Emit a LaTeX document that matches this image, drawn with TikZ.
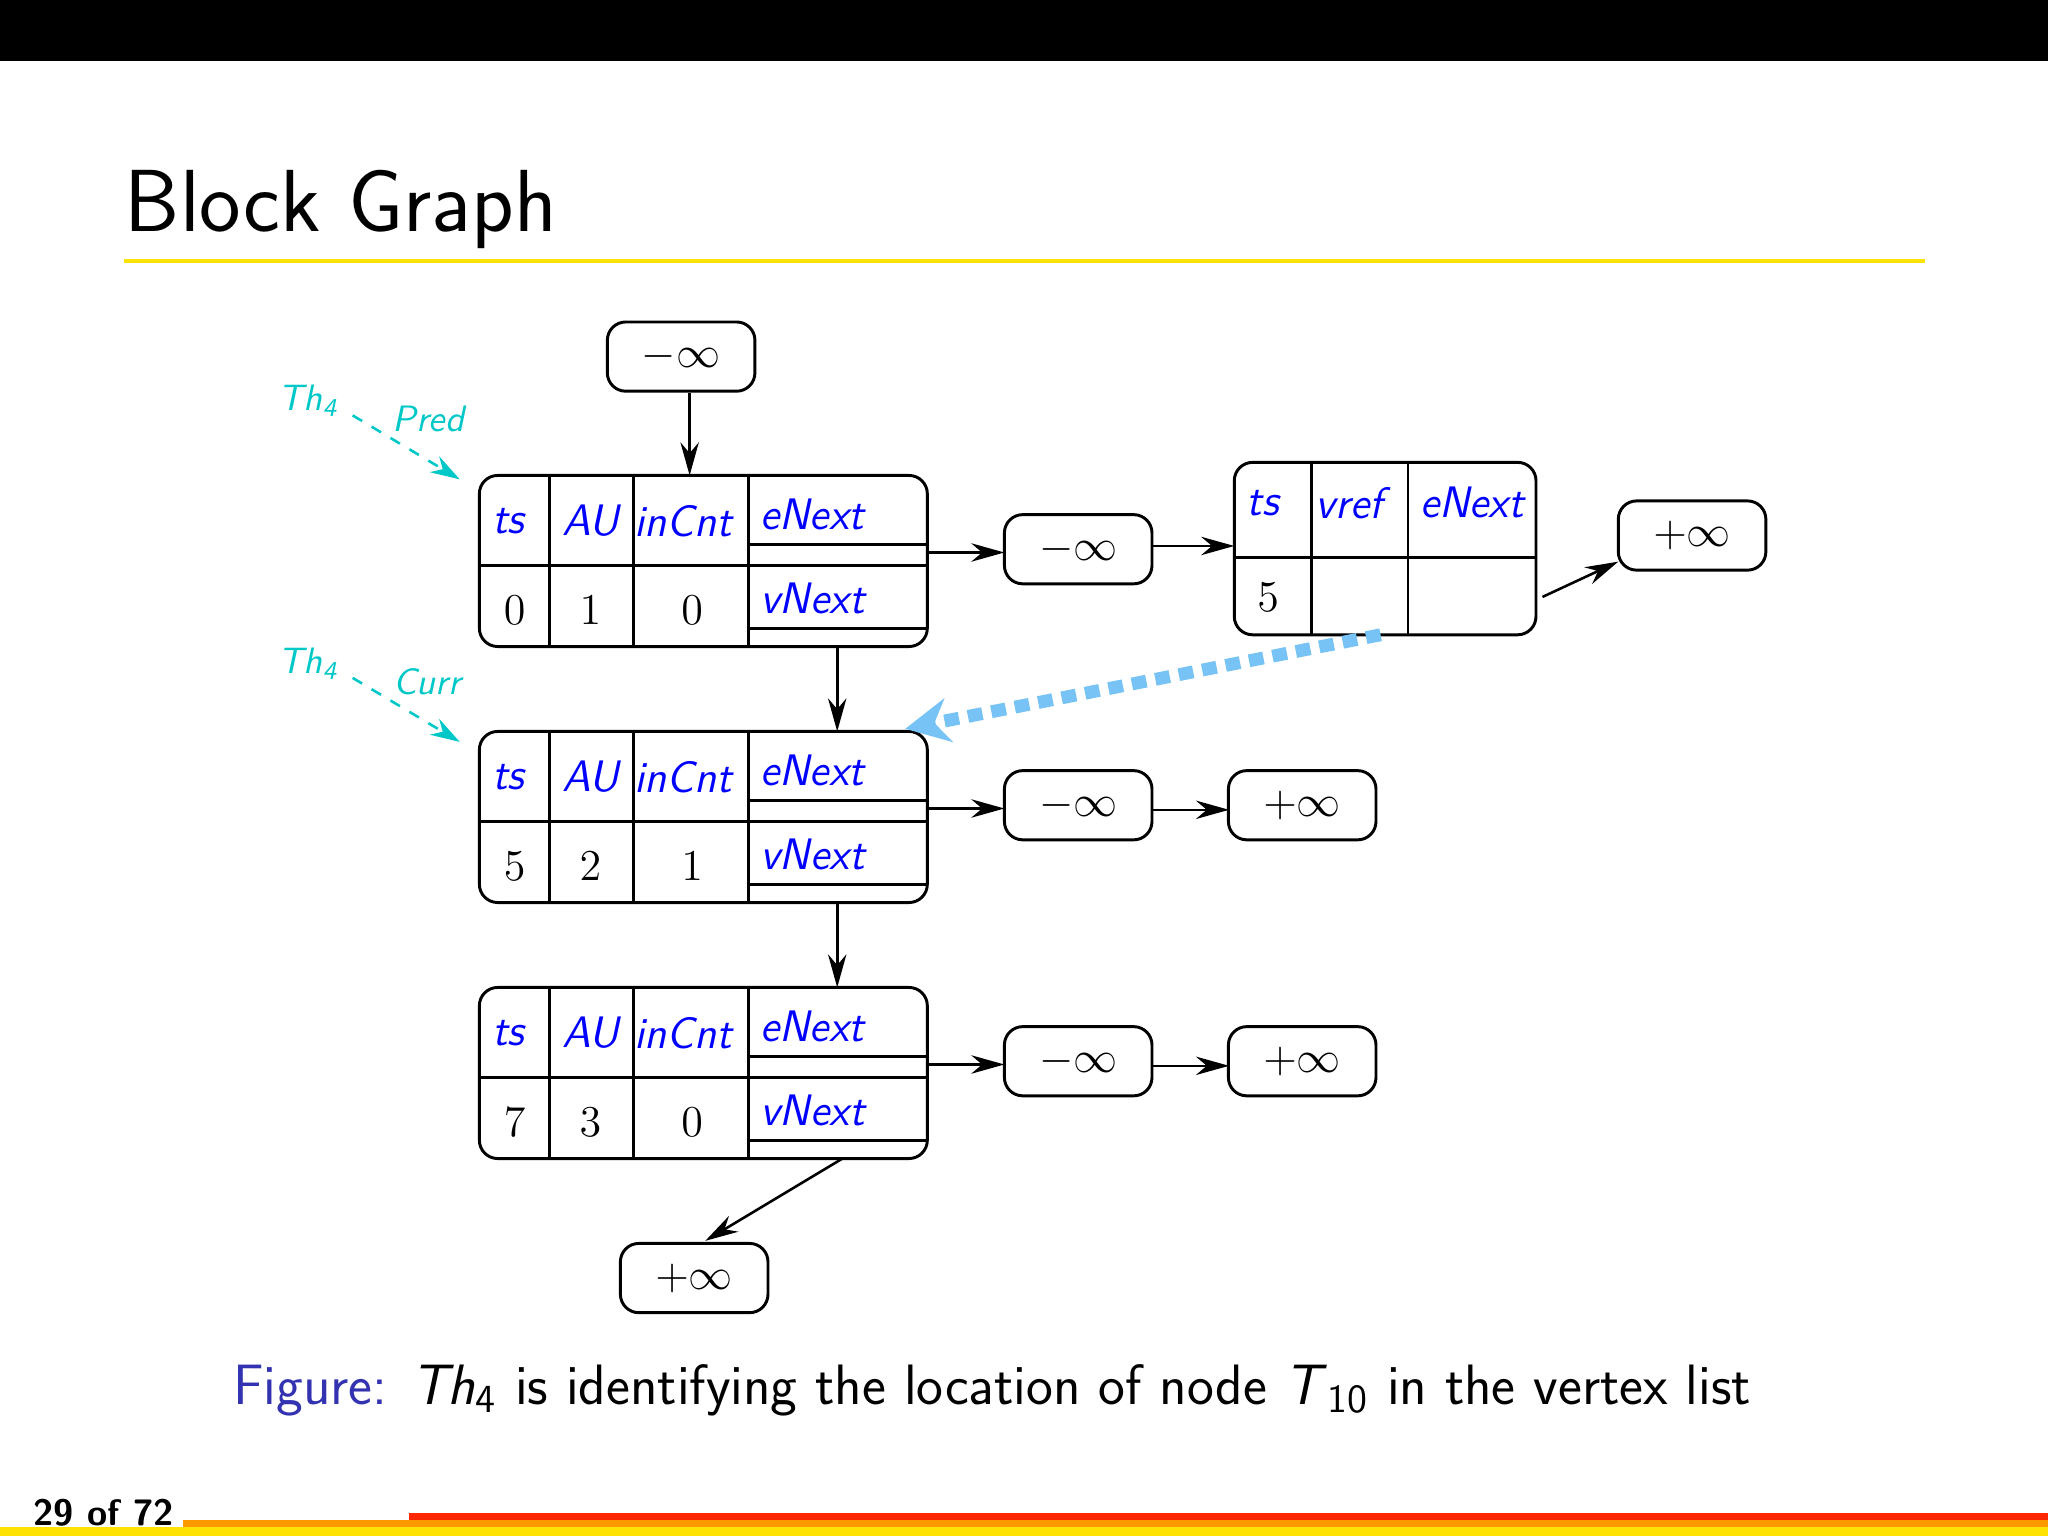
\documentclass[tikz,border=0pt]{standalone}
\usetikzlibrary{arrows.meta}
\begin{document}
\sffamily
\begin{tikzpicture}[x=0.0125cm,y=-0.0125cm,
  bx/.style={draw,rounded corners=5pt,line width=0.8pt},
  inf/.style={draw,rounded corners=5pt,line width=0.8pt,minimum width=113*0.0125cm,minimum height=53*0.0125cm,inner sep=0pt,font=\large},
  fl/.style={text=blue,font=\large\itshape\sffamily},
  nm/.style={font=\large},
  ar/.style={-{Stealth[length=9pt,width=5pt]},line width=0.7pt},
  th/.style={text={rgb,255:red,0;green,200;blue,200},font=\normalsize\itshape\sffamily},
  thar/.style={dashed,-{Stealth[length=8pt,width=5pt]},line width=0.7pt,draw={rgb,255:red,0;green,200;blue,200}}]
\useasboundingbox (0,0) rectangle (1568,1176);
\fill[black] (0,0) rectangle (1568,47);
\node[anchor=base west,font=\fontsize{24}{28}\selectfont,inner sep=0pt] (title) at (95,177) {Block Graph};
\fill[yellow!85!orange] (95,198.5) rectangle (1474,201.5);
\fill[yellow!85!orange] (0,1169) rectangle (1568,1176);
\fill[orange!80!yellow] (140,1164) rectangle (1568,1169);
\fill[red!70!orange] (313,1158) rectangle (1568,1164);
\node[anchor=base west,font=\bfseries\normalsize,inner sep=0pt] (pg) at (25,1168) {29 of 72};
\node[anchor=base west,font=\fontsize{15.5}{18}\selectfont,inner sep=0pt] (cap) at (178,1075) {\textcolor[rgb]{0.2,0.2,0.7}{Figure:} \textit{Th}\textsubscript{4} is identifying the location of node \textit{T}\textsubscript{10} in the vertex list};
% blocks
\foreach \k/\oy/\a/\b/\c in {1/0/0/1/0, 2/196/5/2/1, 3/392/7/3/0}{
  \begin{scope}[yshift=-\oy*0.0125cm]
  \draw[bx] (367,364) rectangle (710,495);
  \draw[line width=0.8pt] (421,364) -- (421,495) (485,364) -- (485,495) (573,364) -- (573,495)
     (367,433) -- (710,433) (573,417) -- (710,417) (573,481) -- (710,481);
  \node[fl] at (389,399) {ts};
  \node[fl] at (452,399) {AU};
  \node[fl] at (523,399) {inCnt};
  \node[fl] at (622,394) {eNext};
  \node[fl] at (622,458) {vNext};
  \node[nm] at (394,467) {$\a$};
  \node[nm] at (452,467) {$\b$};
  \node[nm] at (530,467) {$\c$};
  \end{scope}}
\coordinate (b1t) at (528,364); \coordinate (b1b) at (641,495);
\coordinate (b2t) at (641,560); \coordinate (b2b) at (641,691);
\coordinate (b3t) at (641,756); \coordinate (b3b) at (645,887);
\node[inf] (top) at (521.5,273) {$-\infty$};
\node[inf] (bot) at (531.5,978.5) {$+\infty$};
\draw[ar] (top.south -| b1t) -- (b1t);
\draw[ar] (b1b) -- (b2t);
\draw[ar] (b2b) -- (b3t);
\draw[ar] (b3b) -- (540,950);
% row 1
\node[inf] (m1) at (825.5,420.5) {$-\infty$};
\draw[ar] (710,423) -- (769,423);
\draw[bx] (945,354) rectangle (1176,486);
\draw[line width=0.8pt] (1004,354) -- (1004,486) (1078,354) -- (1078,486) (945,427) -- (1176,427);
\node[fl] at (967,385) {ts};
\node[fl] at (1033,385) {vref};
\node[fl] at (1127,385) {eNext};
\node[nm] at (971,457) {$5$};
\draw[ar] (882,418) -- (945,418);
\node[inf] (p1) at (1295.5,410) {$+\infty$};
\draw[ar] (1181,457) -- (1239,430);
\draw[line width=3.5pt,dash pattern=on 4pt off 2.5pt,draw={rgb,255:red,120;green,195;blue,245},-{Stealth[length=12pt,width=12pt]}] (1057,486) -- (693,558);
% row 2,3
\foreach \oy/\n in {196/2,392/3}{
  \begin{scope}[yshift=-\oy*0.0125cm]
  \node[inf] (m\n) at (825.5,420.5) {$-\infty$};
  \node[inf] (p\n) at (997,420.5) {$+\infty$};
  \draw[ar] (710,423) -- (769,423);
  \draw[ar] (882,424) -- (941,424);
  \end{scope}}
% Th4
\node[th] (t1) at (236,307) {\textit{Th}\textsubscript{4}};
\node[th] (pr) at (328,321) {Pred};
\draw[thar] (270,318) -- (352,367);
\node[th] (t2) at (236,508) {\textit{Th}\textsubscript{4}};
\node[th] (cu) at (327,522) {Curr};
\draw[thar] (270,519) -- (352,568);
\end{tikzpicture}
\end{document}
